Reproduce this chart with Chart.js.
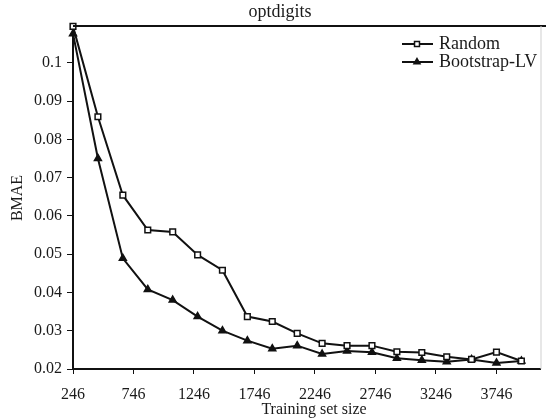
<!DOCTYPE html>
<html>
<head>
<meta charset="utf-8">
<script src="https://cdn.jsdelivr.net/npm/chart.js@4"></script>
<style>
  html, body { margin: 0; padding: 0; background: #fff; }
  #wrap { width: 546px; height: 420px; position: relative; }
</style>
</head>
<body>
<div id="wrap"><canvas id="chart"></canvas></div>
<script>
// training set sizes (x)
const sizes = [246, 452, 658, 864, 1070, 1276, 1481, 1687, 1893, 2099, 2305, 2511, 2717, 2923, 3129, 3335, 3540, 3746, 3952];
const randomBmae = [0.1095, 0.0859, 0.0654, 0.0563, 0.0558, 0.0498, 0.0458, 0.0337, 0.0324, 0.0293, 0.0267, 0.0261, 0.0261, 0.0245, 0.0243, 0.0232, 0.0225, 0.0244, 0.0221];
const bootstrapBmae = [0.1076, 0.0750, 0.0489, 0.0408, 0.0380, 0.0337, 0.0300, 0.0274, 0.0253, 0.0261, 0.0239, 0.0247, 0.0244, 0.0228, 0.0223, 0.0219, 0.0225, 0.0216, 0.0221];
const xTicks = [246, 746, 1246, 1746, 2246, 2746, 3246, 3746];
const yTicks = [0.02, 0.03, 0.04, 0.05, 0.06, 0.07, 0.08, 0.09, 0.1];

const serif = '"Liberation Serif", "DejaVu Serif", serif';
const ink = '#1a1a1a';

function toPoints(ys) {
  return sizes.map((x, i) => ({ x: x, y: ys[i] }));
}

const frameAndText = {
  id: 'frameAndText',
  afterDraw(chart) {
    const ctx = chart.ctx;
    const a = chart.chartArea;
    ctx.save();
    // top frame line and faint right edge
    ctx.strokeStyle = '#111';
    ctx.lineWidth = 2;
    ctx.beginPath();
    ctx.moveTo(a.left, a.top);
    ctx.lineTo(546, a.top);
    ctx.stroke();
    ctx.strokeStyle = '#cfcfcf';
    ctx.lineWidth = 1;
    ctx.beginPath();
    ctx.moveTo(a.right + 0.5, a.top);
    ctx.lineTo(a.right + 0.5, a.bottom);
    ctx.stroke();

    // title
    ctx.fillStyle = ink;
    ctx.font = '18px ' + serif;
    ctx.textAlign = 'center';
    ctx.textBaseline = 'middle';
    ctx.fillText('optdigits', 280, 12);

    // axis titles
    ctx.font = '16px ' + serif;
    ctx.fillText('Training set size', 314, 410);
    ctx.save();
    ctx.translate(18, 198);
    ctx.rotate(-Math.PI / 2);
    ctx.fillText('BMAE', 0, 0);
    ctx.restore();

    // legend
    const items = [
      { label: 'Random', style: 'rect', fill: '#fff', r: 3.5, y: 44 },
      { label: 'Bootstrap-LV', style: 'triangle', fill: '#111', r: 3.5, y: 62 }
    ];
    ctx.textAlign = 'left';
    ctx.font = '18px ' + serif;
    items.forEach(it => {
      ctx.strokeStyle = '#111';
      ctx.lineWidth = 2;
      ctx.beginPath();
      ctx.moveTo(402, it.y);
      ctx.lineTo(433, it.y);
      ctx.stroke();
      ctx.fillStyle = it.fill;
      ctx.lineWidth = 1.5;
      Chart.helpers.drawPoint(ctx, { pointStyle: it.style, radius: it.r, borderWidth: 1.5 }, 417, it.y);
      ctx.fillStyle = ink;
      ctx.fillText(it.label, 439, it.y);
    });
    ctx.restore();
  }
};

new Chart(document.getElementById('chart'), {
  type: 'line',
  data: {
    datasets: [
      {
        label: 'Random',
        data: toPoints(randomBmae),
        borderColor: '#111',
        borderWidth: 2,
        pointStyle: 'rect',
        pointRadius: 4,
        pointBackgroundColor: '#fff',
        pointBorderColor: '#111',
        pointBorderWidth: 1.5,
        tension: 0,
        clip: false
      },
      {
        label: 'Bootstrap-LV',
        data: toPoints(bootstrapBmae),
        borderColor: '#111',
        borderWidth: 2,
        pointStyle: 'triangle',
        pointRadius: 4,
        pointBackgroundColor: '#111',
        pointBorderColor: '#111',
        pointBorderWidth: 1.5,
        tension: 0,
        clip: false
      }
    ]
  },
  options: {
    responsive: true,
    maintainAspectRatio: false,
    animation: false,
    layout: { padding: { top: 26, right: 1, left: 0, bottom: 0 } },
    plugins: {
      legend: { display: false },
      title: { display: false },
      tooltip: { enabled: false }
    },
    scales: {
      x: {
        type: 'linear',
        min: 246,
        max: 4110,
        afterBuildTicks: s => { s.ticks = xTicks.map(v => ({ value: v })); },
        afterFit: s => { s.height = 51; },
        border: { color: '#111', width: 2 },
        grid: { drawOnChartArea: false, drawTicks: true, tickLength: 5, color: '#111' },
        ticks: {
          color: ink,
          font: { family: serif, size: 16 },
          padding: 11,
          maxRotation: 0,
          autoSkip: false,
          callback: v => String(v)
        }
      },
      y: {
        min: 0.02,
        max: 0.1096,
        afterBuildTicks: s => { s.ticks = yTicks.map(v => ({ value: v })); },
        afterFit: s => { s.width = 73; },
        border: { color: '#111', width: 2 },
        grid: { drawOnChartArea: false, drawTicks: true, tickLength: 6, color: '#111' },
        ticks: {
          color: ink,
          font: { family: serif, size: 16 },
          padding: 5,
          callback: v => String(Math.round(v * 100) / 100)
        }
      }
    }
  },
  plugins: [frameAndText]
});
</script>
</body>
</html>
